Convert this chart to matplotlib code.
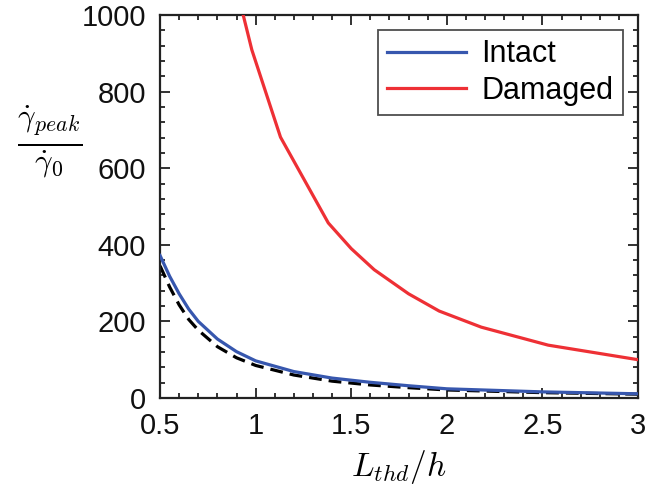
import matplotlib
matplotlib.use("Agg")
import matplotlib.pyplot as plt
from matplotlib.ticker import MultipleLocator, AutoMinorLocator

plt.rcParams['font.family'] = ['Liberation Sans', 'DejaVu Sans']
plt.rcParams['mathtext.fontset'] = 'cm'

# peak strain-rate ratio vs threshold length
x_intact = [0.5, 0.55, 0.6, 0.65, 0.7, 0.8, 0.9, 1.0, 1.2, 1.4, 1.6, 1.8, 2.0, 2.5, 3.0]
y_intact = [372, 318, 272, 232, 200, 154, 121, 97, 69, 52, 41, 32, 24, 16, 11]

x_damaged = [0.92, 0.98, 1.13, 1.38, 1.5, 1.62, 1.8, 1.96, 2.18, 2.53, 3.0]
y_damaged = [1030, 909, 681, 457, 390, 335, 272, 227, 185, 138, 100]

x_ref = [0.5, 0.55, 0.6, 0.65, 0.7, 0.8, 0.9, 1.0, 1.2, 1.4, 1.6, 1.8, 2.0, 2.5, 3.0]
y_ref = [345, 290, 243, 205, 177, 134, 105, 85, 60, 44, 34, 27, 21, 14, 10]

fig = plt.figure(figsize=(6.48, 4.91), dpi=100)
ax = fig.add_axes([0.247, 0.1894, 0.7376, 0.7801])

ax.plot(x_ref, y_ref, color='black', lw=2.3, dashes=(4, 2.2), zorder=2)
ax.plot(x_intact, y_intact, color='#3757ae', lw=2.3, label='Intact', zorder=3)
ax.plot(x_damaged, y_damaged, color='#ee3035', lw=2.3, label='Damaged', zorder=3)

ax.set_xlim(0.5, 3)
ax.set_ylim(0, 1000)
ax.xaxis.set_major_locator(MultipleLocator(0.5))
ax.xaxis.set_minor_locator(AutoMinorLocator(5))
ax.yaxis.set_major_locator(MultipleLocator(200))
ax.yaxis.set_minor_locator(AutoMinorLocator(5))
ax.xaxis.set_major_formatter(plt.FuncFormatter(lambda v, p: f'{v:g}'))

ax.tick_params(which='both', direction='in', top=True, right=True, width=1.3, colors='#222222')
ax.tick_params(which='major', length=7, labelsize=21, pad=10, labelcolor='#111111')
ax.tick_params(which='minor', length=3.5)
for s in ax.spines.values():
    s.set_linewidth(1.6)
    s.set_color('#222222')

ax.set_xlabel(r'$L_{thd}/h$', fontsize=24, labelpad=6)
ax.set_ylabel(r'$\frac{\dot{\gamma}_{peak}}{\dot{\gamma}_0}$', fontsize=32, rotation=0)
ax.yaxis.set_label_coords(-0.23, 0.57)

leg = ax.legend(loc='upper right', fontsize=22, fancybox=False, edgecolor='#222222',
                handlelength=2.6, borderaxespad=0.5, labelspacing=0.2,
                borderpad=0.3, handletextpad=0.5)
leg.get_frame().set_linewidth(1.3)

fig.savefig('out.png', dpi=100)
